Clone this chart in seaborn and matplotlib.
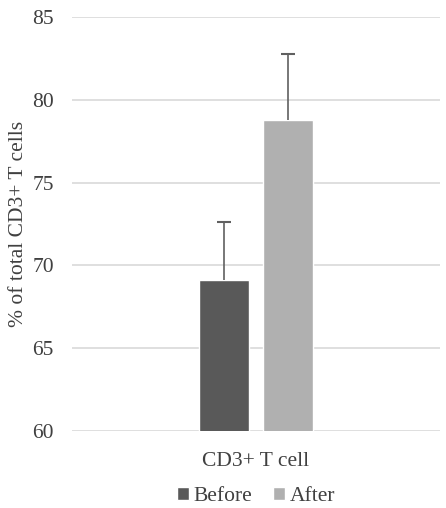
import matplotlib
matplotlib.use("Agg")
import matplotlib.pyplot as plt
import seaborn as sns
import pandas as pd

categories = ["CD3+ T cell"]
groups = ["Before", "After"]
means = [69.1, 78.8]
errors = [3.5, 3.95]
yticks = [60, 65, 70, 75, 80, 85]

sns.set_theme(style="white")
plt.rcParams['font.family'] = ['Liberation Serif', 'DejaVu Serif']

df = pd.DataFrame({"cat": categories * 2, "group": groups, "val": means})

fig = plt.figure(figsize=(4.46, 5.08), dpi=100)
ax = fig.add_axes([72/446, 77/508, 368/446, 414/508])

sns.barplot(data=df, x="cat", y="val", hue="group", hue_order=groups,
            palette=["#595959", "#b0b0b0"], width=0.35, gap=0.22,
            ax=ax, errorbar=None, legend=True)

# error bars (upper only), positioned from the drawn bars
bars = [p for p in ax.patches if p.get_height() > 0][:2]
for p, m, e in zip(bars, means, errors):
    xc = p.get_x() + p.get_width() / 2
    _, caps, _ = ax.errorbar([xc], [m], yerr=[[0], [e]], fmt="none", ecolor="#606060",
                             elinewidth=1.2, capsize=5, capthick=1.5, zorder=3)
    caps[0].set_visible(False)

ax.set_ylim(60, 85)
ax.set_xlim(-0.5, 0.5)
ax.set_yticks(yticks)
ax.yaxis.grid(True, color="#d9d9d9", linewidth=1.2)
ax.set_axisbelow(True)
for s in ax.spines.values():
    s.set_visible(False)
fs = 15.5
ax.tick_params(axis="both", length=0, labelsize=fs, labelcolor="#404040")
ax.tick_params(axis="y", pad=13)
ax.tick_params(axis="x", pad=15)
ax.set_xlabel("")
ax.set_ylabel("% of total CD3+ T cells", fontsize=fs, color="#404040", labelpad=3)

ax.legend(loc="upper center", bbox_to_anchor=(256/446, 34/508),
          bbox_transform=fig.transFigure, ncol=2, frameon=False,
          fontsize=fs, handlelength=0.55, handleheight=0.55,
          handletextpad=0.2, columnspacing=1.0, labelcolor="#404040",
          borderpad=0.1)

fig.savefig("out.png", dpi=100)
